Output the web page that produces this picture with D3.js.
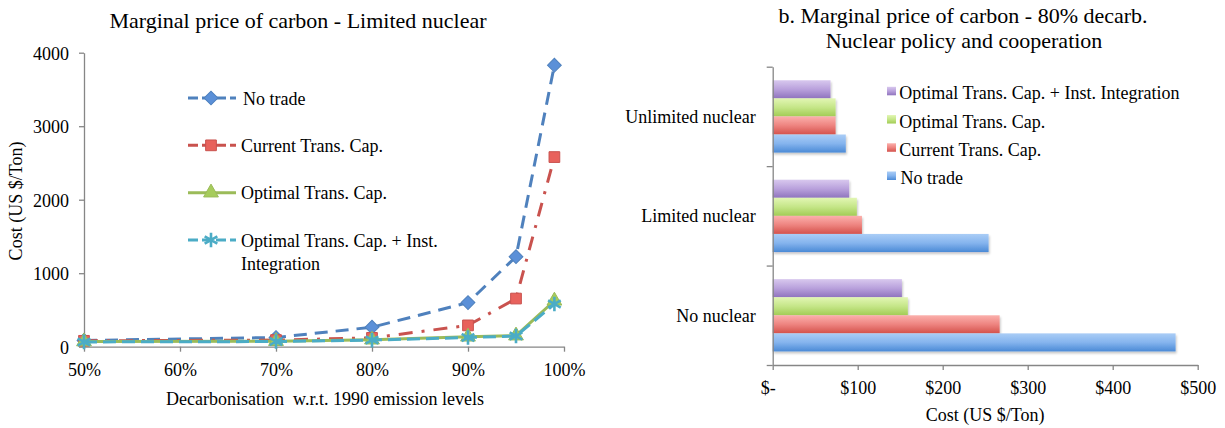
<!DOCTYPE html>
<html><head><meta charset="utf-8">
<script src="https://cdn.jsdelivr.net/npm/d3@7"></script>
</head><body style="margin:0;background:#fff"><svg id="c" width="1225" height="428"></svg>
<script>
// ---------- Data: left chart ----------
const decarbLevels = [50, 70, 80, 90, 95, 99];
const lineSeriesNames = ["No trade", "Current Trans. Cap.", "Optimal Trans. Cap.", "Optimal Trans. Cap. + Inst. Integration"];
const noTrade = [85, 125, 265, 600, 1225, 3830];
const currentCap = [80, 90, 120, 290, 655, 2580];
const optimalCap = [70, 75, 95, 135, 150, 625];
const optimalInst = [65, 70, 90, 125, 145, 580];
const xTickValues = [50, 60, 70, 80, 90, 100];
const yTickValues = [0, 1000, 2000, 3000, 4000];

// ---------- Data: right chart ----------
const nuclearPolicies = ["Unlimited nuclear", "Limited nuclear", "No nuclear"];
const barSeriesNames = ["Optimal Trans. Cap. + Inst. Integration", "Optimal Trans. Cap.", "Current Trans. Cap.", "No trade"];
const barOptimalInst = [68, 90, 152];
const barOptimal = [74, 99, 159];
const barCurrent = [74, 105, 267];
const barNoTrade = [86, 254, 474];
const costTicks = [0, 100, 200, 300, 400, 500];

const FONT = '"Liberation Serif", "Times New Roman", Times, serif';
const svg = d3.select("#c").style("font-family", FONT);
const axisGray = "#868686";
function txt(sel, size) { return sel.style("font-family", FONT).style("font-size", size + "px").attr("fill", "#000"); }

// ================= LEFT CHART =================
const xL = d3.scaleLinear().domain([50, 100]).range([84, 564]);
const yL = d3.scaleLinear().domain([0, 4000]).range([346.7, 52.7]);

txt(svg.append("text").attr("x", 298).attr("y", 28).attr("text-anchor", "middle"), 22)
  .text("Marginal price of carbon - Limited nuclear");

const gyL = svg.append("g").attr("transform", `translate(${xL(50)},0)`)
  .call(d3.axisLeft(yL).tickValues(yTickValues).tickSize(5).tickSizeOuter(0).tickPadding(10).tickFormat(d3.format("d")));
const gxL = svg.append("g").attr("transform", `translate(0,${yL(0)})`)
  .call(d3.axisBottom(xL).tickValues(xTickValues).tickSize(5).tickSizeOuter(0).tickPadding(12).tickFormat(d => d + "%"));
[gyL, gxL].forEach(g => {
  g.attr("font-family", null).attr("font-size", null);
  g.selectAll("path,line").attr("stroke", axisGray).attr("stroke-width", 1.3);
  txt(g.selectAll("text"), 18);
});
gyL.selectAll("text").attr("dy", "0.36em");

txt(svg.append("text").attr("x", 325).attr("y", 405).attr("text-anchor", "middle").attr("xml:space", "preserve"), 18)
  .text("Decarbonisation  w.r.t. 1990 emission levels");
txt(svg.append("text").attr("transform", "translate(22,201) rotate(-90)").attr("text-anchor", "middle"), 18)
  .text("Cost (US $/Ton)");

const lineSeries = [
  {name: lineSeriesNames[0], values: noTrade, stroke: "#4f81bd", fill: "#5b90d8", dash: "13,8", marker: "diamond"},
  {name: lineSeriesNames[1], values: currentCap, stroke: "#c9524e", fill: "#e8625c", dash: "14,9,3,9", marker: "square"},
  {name: lineSeriesNames[2], values: optimalCap, stroke: "#9bbb59", fill: "#a6cc5c", dash: null, marker: "triangle"},
  {name: lineSeriesNames[3], values: optimalInst, stroke: "#4bacc6", fill: "#4bacc6", dash: "13,6", marker: "star"}
];

function markerPath(type) {
  if (type === "diamond") return d3.symbol(d3.symbolSquare, 95)();
  if (type === "square") return d3.symbol(d3.symbolSquare, 115)();
  if (type === "triangle") return d3.symbol(d3.symbolTriangle, 95)();
  return d3.symbol(d3.symbolAsterisk, 150)();
}
function drawMarker(g, s, x, y) {
  const p = g.append("path").attr("d", markerPath(s.marker));
  if (s.marker === "star") {
    p.attr("transform", `translate(${x},${y})`).attr("fill", "none").attr("stroke", s.stroke).attr("stroke-width", 2.6);
  } else {
    p.attr("transform", `translate(${x},${y})` + (s.marker === "diamond" ? " rotate(45)" : ""))
      .attr("fill", s.fill).attr("stroke", s.stroke).attr("stroke-width", 1);
  }
}

const line = d3.line().x(d => xL(d[0])).y(d => yL(d[1]));
lineSeries.forEach(s => {
  const pts = decarbLevels.map((x, i) => [x, s.values[i]]);
  const g = svg.append("g");
  g.append("path").attr("d", line(pts)).attr("fill", "none").attr("stroke", s.stroke)
    .attr("stroke-width", 3).attr("stroke-dasharray", s.dash);
  pts.forEach(p => drawMarker(g, s, xL(p[0]), yL(p[1])));
});

// Left legend
const legRowsL = d3.scaleLinear().domain([0, 3]).range([98, 240]);
lineSeries.forEach((s, i) => {
  const cy = legRowsL(i);
  const g = svg.append("g");
  g.append("line").attr("x1", 188).attr("x2", 236).attr("y1", cy).attr("y2", cy)
    .attr("stroke", s.stroke).attr("stroke-width", 3).attr("stroke-dasharray", s.dash ? "10,4" : null);
  drawMarker(g, s, 211, cy);
  if (i === 3) {
    txt(g.append("text").attr("x", 241).attr("y", cy + 6.5), 18).text("Optimal Trans. Cap. + Inst.");
    txt(g.append("text").attr("x", 241).attr("y", cy + 30), 18).text("Integration");
  } else {
    txt(g.append("text").attr("x", i === 0 ? 243 : 241).attr("y", cy + 6.5), 18).text(s.name);
  }
});

// ================= RIGHT CHART =================
const defs = svg.append("defs");
const barColors = {
  "Optimal Trans. Cap. + Inst. Integration": ["#d8c8ee", "#b9a1dc", "#9074be"],
  "Optimal Trans. Cap.": ["#e2f6b4", "#c5e688", "#a2cc55"],
  "Current Trans. Cap.": ["#fbb0ac", "#ee8480", "#d4524c"],
  "No trade": ["#aacdf6", "#85b4ee", "#4b8ad6"]
};
barSeriesNames.forEach((n, i) => {
  const gr = defs.append("linearGradient").attr("id", "g" + i).attr("x1", 0).attr("y1", 0).attr("x2", 0).attr("y2", 1);
  gr.append("stop").attr("offset", "0%").attr("stop-color", barColors[n][0]);
  gr.append("stop").attr("offset", "50%").attr("stop-color", barColors[n][1]);
  gr.append("stop").attr("offset", "100%").attr("stop-color", barColors[n][2]);
});
const f = defs.append("filter").attr("id", "sh").attr("x", "-5%").attr("y", "-20%").attr("width", "115%").attr("height", "160%");
f.append("feDropShadow").attr("dx", 1).attr("dy", 2).attr("stdDeviation", 1.2).attr("flood-color", "#000").attr("flood-opacity", 0.22);

txt(svg.append("text").attr("x", 963).attr("y", 22.7).attr("text-anchor", "middle"), 22)
  .text("b. Marginal price of carbon - 80% decarb.");
txt(svg.append("text").attr("x", 964).attr("y", 48.3).attr("text-anchor", "middle"), 22)
  .text("Nuclear policy and cooperation");

const xR = d3.scaleLinear().domain([0, 500]).range([772.7, 1197.7]);
const yR = d3.scaleBand().domain(nuclearPolicies).range([66.7, 365]).padding(0);
const yInner = d3.scaleBand().domain(barSeriesNames).range([0, yR.bandwidth()]).paddingInner(0).paddingOuter(0.75);
const barValues = {
  "Optimal Trans. Cap. + Inst. Integration": barOptimalInst,
  "Optimal Trans. Cap.": barOptimal,
  "Current Trans. Cap.": barCurrent,
  "No trade": barNoTrade
};

const bars = svg.append("g");
nuclearPolicies.forEach((cat, ci) => {
  barSeriesNames.forEach((n, si) => {
    bars.append("rect")
      .attr("x", xR(0)).attr("y", yR(cat) + yInner(n))
      .attr("width", xR(barValues[n][ci]) - xR(0)).attr("height", yInner.bandwidth())
      .attr("fill", `url(#g${si})`).attr("filter", "url(#sh)");
  });
});

// Right axes
const boundary = d3.scaleLinear().domain([0, 3]).range([66.7, 365]);
const gyR = svg.append("g").attr("transform", `translate(${xR(0)},0)`)
  .call(d3.axisLeft(boundary).tickValues([0, 1, 2, 3]).tickSize(6).tickSizeOuter(0).tickFormat(""));
const gyRL = svg.append("g").attr("transform", `translate(${xR(0)},0)`)
  .call(d3.axisLeft(yR).tickSize(0).tickPadding(17));
gyRL.select(".domain").remove();
const gxR = svg.append("g").attr("transform", `translate(0,${yR.range()[1]})`)
  .call(d3.axisBottom(xR).tickValues(costTicks).tickSize(5).tickSizeOuter(0).tickPadding(11)
    .tickFormat(d => d === 0 ? "$-" : "$" + d));
gxR.selectAll(".tick text").filter(d => d === 0).attr("dx", -5);
[gyR, gyRL, gxR].forEach(g => {
  g.attr("font-family", null).attr("font-size", null);
  g.selectAll("path,line").attr("stroke", axisGray).attr("stroke-width", 1.3);
  txt(g.selectAll("text"), 18);
});
gyRL.selectAll("text").attr("dy", "0.36em");

txt(svg.append("text").attr("x", 985).attr("y", 421).attr("text-anchor", "middle"), 18)
  .text("Cost (US $/Ton)");

// Right legend
const legRowsR = d3.scaleLinear().domain([0, 3]).range([99.3, 184]);
barSeriesNames.forEach((n, i) => {
  const by = legRowsR(i);
  svg.append("rect").attr("x", 887).attr("y", by - 12.5).attr("width", 9).attr("height", 8.5).attr("fill", `url(#g${i})`);
  txt(svg.append("text").attr("x", i === 3 ? 900.5 : 899.3).attr("y", by), 18).text(n);
});
</script>
</body></html>
